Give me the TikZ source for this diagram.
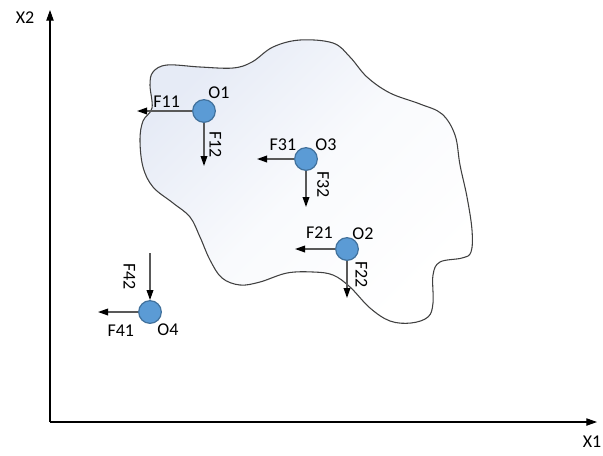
\documentclass[tikz,border=0pt]{standalone}
\usepackage{fontspec}
\setmainfont{Carlito}
\usetikzlibrary{arrows.meta}
\definecolor{ballfill}{HTML}{5B9BD5}
\definecolor{balldraw}{HTML}{41719C}
\definecolor{bodyfill}{HTML}{E6EBF6}
\tikzset{ball/.style={shape=circle, draw=balldraw, fill=ballfill, line width=0.9pt,
    minimum size=17pt, inner sep=0pt},
  force/.style={draw=black!65, line width=1pt, -{Triangle[length=7.5pt,width=5pt,color=black]}},
  axis/.style={draw=black, line width=0.8pt, -{Triangle[length=8pt,width=5.5pt]}},
  vlab/.style={rotate=-90}}

\begin{document}
\begin{tikzpicture}[x=0.75pt, y=-0.75pt, font=\fontsize{13.5}{16}\selectfont]
    \useasboundingbox (0,0) rectangle (603,455);

    % body
    \shadedraw[draw=black!75, line width=0.8pt, top color=bodyfill, bottom color=white,
        middle color=bodyfill!25!white, shading angle=45]
        plot[smooth cycle, tension=0.6] coordinates {
        (153,72) (167,65) (200,67) (233,68) (252,62) (273,47) (300,40) (333,43)
        (350,57) (367,77) (390,93) (420,104) (442,114) (455,135) (460,165) (467,197)
        (472,230) (471,252) (462,258) (440,262) (433,275) (433,303) (428,317)
        (411,323) (390,321) (370,308) (350,287) (333,275) (313,272) (287,273)
        (260,282) (240,285) (222,278) (210,260) (200,237) (190,217) (173,203)
        (153,187) (143,167) (140,140) (143,121) (152,108) (150,85)};

    % axes
    \coordinate (orig) at (50,422);
    \coordinate (x1end) at (597,422);
    \coordinate (x2end) at (50,10);
    \draw[axis] (orig) -- (x1end);
    \draw[axis] (orig) -- (x2end);
    \node (X1) at (592,442) {X1};
    \node (X2) at (25,18) {X2};

    % points
    \node[ball] (O1) at (204,111) {};
    \node[ball] (O3) at (306,159) {};
    \node[ball] (O2) at (347,249) {};
    \node[ball] (O4) at (150,312) {};
    \node (L1) at ([shift={(15,-18)}]O1) {O1};
    \node (L3) at ([shift={(20,-14)}]O3) {O3};
    \node (L2) at ([shift={(16,-15)}]O2) {O2};
    \node (L4) at ([shift={(18,18)}]O4) {O4};

    \coordinate (f11) at (137,111);
    \coordinate (f12) at (204,166);
    \coordinate (f31) at (257,159);
    \coordinate (f32) at (306,207);
    \coordinate (f21) at (295,249);
    \coordinate (f22) at (347,298);
    \coordinate (f41) at (98,312);
    \coordinate (f42) at (150,253);

    \draw[force] (O1) -- (f11) node[pos=.46, anchor=south, inner sep=2.25pt] {F11};
    \draw[force] (O1) -- (f12) node[midway, vlab, anchor=south, inner sep=3.75pt] {F12};
    \draw[force] (O3) -- (f31) node[pos=.3, anchor=south, inner sep=6pt] {F31};
    \draw[force] (O3) -- (f32) node[pos=.38, vlab, anchor=south, inner sep=8pt] {F32};
    \draw[force] (O2) -- (f21) node[pos=.39, anchor=south, inner sep=7.5pt] {F21};
    \draw[force] (O2) -- (f22) node[pos=.37, vlab, anchor=south, inner sep=6pt] {F22};
    \draw[force] (O4) -- (f41) node[pos=.43, anchor=north, inner sep=9.5pt] {F41};
    \draw[force] (f42) -- (O4) node[midway, vlab, anchor=north, inner sep=10.5pt] {F42};

\end{tikzpicture}
\end{document}
